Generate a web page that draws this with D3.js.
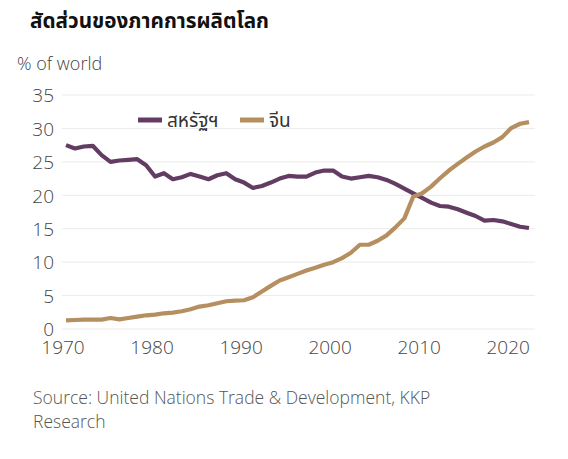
<!DOCTYPE html>
<html><head><meta charset="utf-8">
<script src="https://cdn.jsdelivr.net/npm/d3@7"></script>
<style>
body{margin:0;background:#fff;}
svg{display:block;}
text{font-family:"Open Sans","Noto Sans","Noto Sans Thai",sans-serif;}
</style></head>
<body>
<svg id="c" width="568" height="459"></svg>
<script>
const years = d3.range(1970, 2023);
const usShare = [27.5,27.0,27.3,27.4,26.0,25.0,25.2,25.3,25.4,24.5,
  22.8,23.3,22.4,22.7,23.2,22.8,22.4,23.0,23.3,22.4,
  21.9,21.1,21.4,21.9,22.5,22.9,22.8,22.8,23.4,23.7,
  23.7,22.8,22.5,22.7,22.9,22.7,22.3,21.7,21.0,20.3,
  19.6,18.9,18.4,18.3,17.9,17.4,16.9,16.2,16.3,16.1,
  15.7,15.3,15.1];
const chinaShare = [1.3,1.35,1.4,1.4,1.4,1.65,1.45,1.65,1.85,2.05,
  2.15,2.35,2.45,2.65,2.95,3.35,3.55,3.85,4.15,4.25,
  4.3,4.75,5.6,6.45,7.25,7.75,8.25,8.75,9.15,9.6,
  10.0,10.6,11.4,12.6,12.6,13.2,14.0,15.2,16.55,19.8,
  20.3,21.3,22.55,23.7,24.7,25.65,26.55,27.3,27.9,28.7,
  30.05,30.7,30.95];
const yTicks = [0,5,10,15,20,25,30,35];
const xTicks = [1970,1980,1990,2000,2010,2020];
const seriesNames = ["สหรัฐฯ","จีน"];
const seriesColors = ["#633c63","#b58f5f"];
const titleText = "สัดส่วนของภาคการผลิตโลก";
const unitText = "% of world";
const sourceLines = ["Source: United Nations Trade & Development, KKP","Research"];

const svg = d3.select("#c");
const x = d3.scaleLinear().domain([1970,2022]).range([66,529]);
const y = d3.scaleLinear().domain([0,35]).range([329,95]);

// title
svg.append("text").attr("x",30).attr("y",28).attr("font-size",20.7).attr("font-weight",700)
  .attr("fill","#111").style("font-family",'"Noto Sans Thai","Noto Sans","Open Sans",sans-serif').text(titleText);
svg.append("text").attr("x",17).attr("y",70).attr("font-size",18).attr("font-weight",300)
  .attr("fill","#444").text(unitText);

// grid
svg.append("g").selectAll("line").data(yTicks).join("line")
  .attr("x1",62).attr("x2",535).attr("y1",d=>y(d)).attr("y2",d=>y(d))
  .attr("stroke","#ebebeb").attr("stroke-width",1);

// y axis
const ya = svg.append("g").attr("transform","translate(54,0)")
  .call(d3.axisLeft(y).tickValues(yTicks).tickSize(0).tickPadding(0));
ya.select(".domain").remove();
ya.selectAll("text").attr("font-size",19).attr("fill","#444").attr("dy","0.36em")
  .style("font-family",'"Open Sans",sans-serif').attr("font-weight",300);

// x axis
const xa = svg.append("g").attr("transform","translate(0,339)")
  .call(d3.axisBottom(x).tickValues(xTicks).tickFormat(d3.format("d")).tickSize(0).tickPadding(0));
xa.select(".domain").remove();
xa.selectAll("text").attr("font-size",19).attr("fill","#444").attr("dx",-3.5).attr("dy","0.78em")
  .style("font-family",'"Open Sans",sans-serif').attr("font-weight",300);

// lines
const line = d3.line().x((d,i)=>x(years[i])).y(d=>y(d));
[usShare, chinaShare].forEach((s,k)=>{
  svg.append("path").datum(s).attr("d",line).attr("fill","none")
    .attr("stroke",seriesColors[k]).attr("stroke-width",4.2).attr("stroke-linejoin","round");
});

// legend
const legX = [138,240];
seriesNames.forEach((n,k)=>{
  svg.append("line").attr("x1",legX[k]).attr("x2",legX[k]+24).attr("y1",120).attr("y2",120)
    .attr("stroke",seriesColors[k]).attr("stroke-width",5);
  svg.append("text").attr("x",legX[k]+29).attr("y",127).attr("font-size",19).attr("fill","#333")
    .style("font-family",'"Noto Sans Thai","Noto Sans",sans-serif').text(n);
});

// source
svg.append("g").selectAll("text").data(sourceLines).join("text")
  .attr("x",33).attr("y",(d,i)=>404+i*24).attr("font-size",17.5).attr("fill","#555")
  .style("font-family",'"Open Sans",sans-serif').attr("font-weight",300).text(d=>d);
</script>
</body></html>
